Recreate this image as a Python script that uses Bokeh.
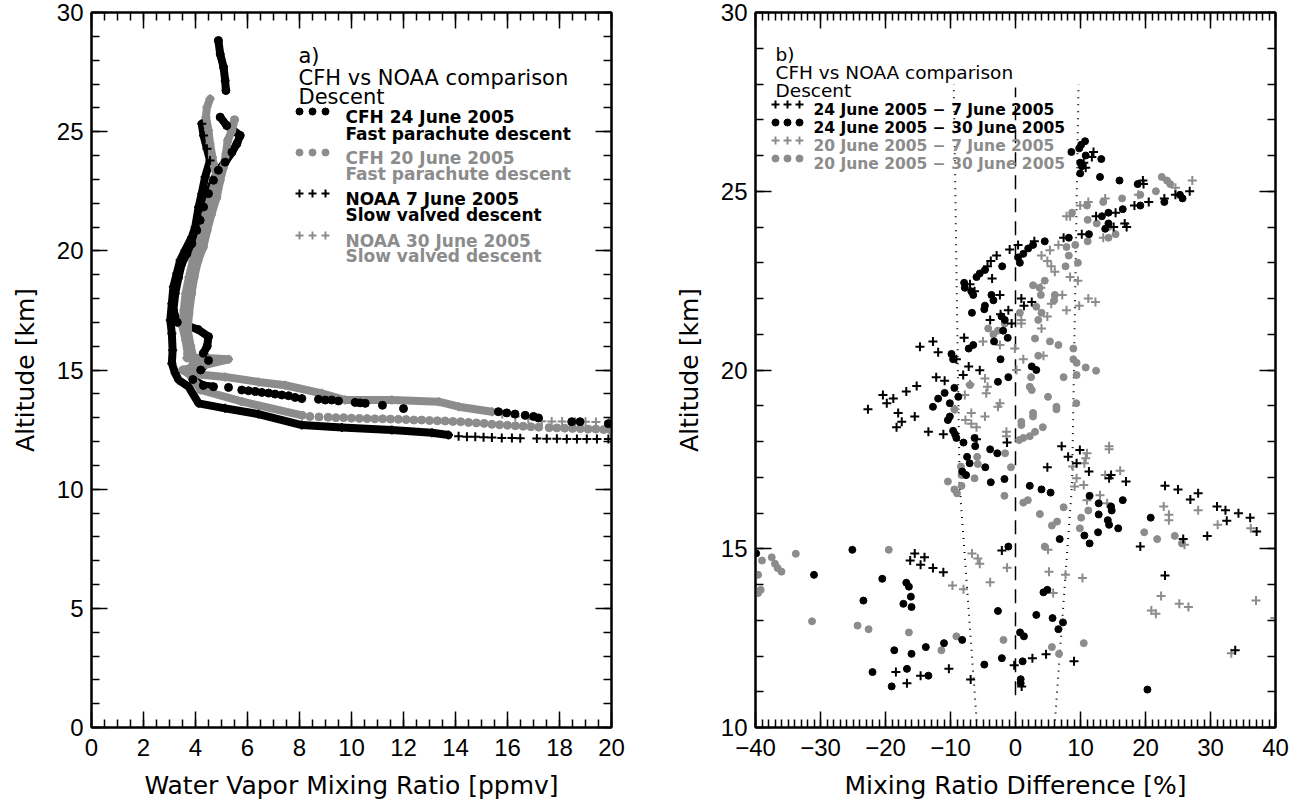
from bokeh.plotting import figure
from bokeh.layouts import row
from bokeh.models import Range1d, LinearAxis, FixedTicker, Label, CustomJSTickFormatter
from bokeh.embed import file_html
from bokeh.resources import INLINE

BLACK = "#000000"
GRAY = "#8c8c8c"
FONT = "DejaVu Sans"
TICK_FONT = "Liberation Sans"

# ------------------------------------------------------------------ panel a
A_XRANGE = (0, 20)
A_YRANGE = (0, 30)
A_X_TICKS = [0, 2, 4, 6, 8, 10, 12, 14, 16, 18, 20]
A_Y_TICKS = [0, 5, 10, 15, 20, 25, 30]

# CFH 24 June 2005 (black dots) - dense profile (nan = gap)
CFH24_V = [4.88, 4.95, 5.08, 5.14, 5.17, float("nan"),
           4.95, 5.2, 5.72, 5.59, 5.4, 5.14, 4.88, 4.69, 4.5, 4.31, 4.18, 4.05, 3.86, 3.67,
           3.47, 3.35, 3.22, 3.15, 3.3, 4.1, 4.5, 4.45, 4.3, 4.5, 4.2, 3.9, 4.3, 4.69]
CFH24_ALT = [28.82, 28.26, 27.7, 27.15, 26.73, float("nan"),
             25.61, 25.26, 24.84, 24.49, 24.14, 23.72, 23.38, 22.96, 22.4, 21.84, 21.28, 20.86, 20.3, 19.88,
             19.46, 18.9, 18.21, 17.51, 17.0, 16.7, 16.4, 16.0, 15.7, 15.4, 15.0, 14.6, 14.35, 14.3]
CFH24_TAIL_V = [5.27, 5.78, 6.04, 6.3, 6.55, 6.81, 7.06, 7.32, 7.58, 7.83, 8.09, 8.73, 8.99, 9.24, 9.5,
                10.14, 10.33, 10.53, 11.19, 12.0, 15.65, 15.97, 16.29, 16.68, 17.0, 17.19, 18.47, 18.79, 19.88]
CFH24_TAIL_ALT = [14.27, 14.16, 14.13, 14.1, 14.06, 14.03, 13.99, 13.95, 13.92, 13.85, 13.8, 13.77, 13.74, 13.74, 13.7,
                  13.64, 13.62, 13.6, 13.52, 13.38, 13.25, 13.2, 13.15, 13.1, 13.05, 12.99, 12.83, 12.83, 12.75]

# CFH 20 June 2005 (gray dots)
CFH20_V = [5.5, 5.4, 5.24, 5.17, 5.08, 4.95, 4.82, 4.62, 4.45, 4.3, 4.1, 3.95, 3.85, 3.75, 3.7, 3.82,
           3.95, 3.73, 3.85, 4.2, 5.8, 8.1]
CFH20_ALT = [25.5, 25.05, 24.63, 24.07, 23.52, 22.96, 22.26, 21.56, 20.86, 20.16, 19.6, 18.9, 18.21, 17.37, 16.67, 15.97,
             15.41, 14.86, 14.7, 14.16, 13.67, 13.1]
CFH20_TAIL_V = [8.4, 8.75, 9.1, 9.4, 9.7, 10.0, 10.3, 10.6, 10.9, 11.2, 11.5, 11.8, 12.1, 12.4, 12.7, 13.0, 13.3,
                13.6, 13.9, 14.2, 14.5, 14.8, 15.1, 15.4, 15.7, 16.0, 16.3, 16.6, 16.9, 17.2, 17.6, 17.9, 18.2,
                18.5, 18.8, 19.1, 19.4, 19.7, 19.95]
CFH20_TAIL_ALT = [13.05, 13.03, 13.02, 13.0, 13.0, 12.98, 12.97, 12.96, 12.95, 12.95, 12.94, 12.93, 12.92, 12.9, 12.9,
                  12.88, 12.87, 12.86, 12.84, 12.83, 12.8, 12.78, 12.76, 12.72, 12.7, 12.68, 12.66, 12.64, 12.62,
                  12.6, 12.58, 12.57, 12.56, 12.55, 12.54, 12.52, 12.52, 12.5, 12.5]

# NOAA 7 June 2005 (black crosses)
NOAA07_V = [4.24, 4.31, 4.44, 4.56, 4.37, 4.24, 4.12, 3.99, 3.86, 3.6, 3.41, 3.28, 3.15, 3.09, 3.03, 3.09, 3.12,
            3.09, 3.22, 3.35, 3.73, 4.12, 5.14, 6.42, 8.09, 9.63, 11.55, 13.09, 13.73]
NOAA07_ALT = [25.33, 24.84, 24.28, 23.79, 23.1, 22.4, 21.84, 21.0, 20.58, 20.02, 19.6, 19.05, 18.49, 17.79, 17.09,
              16.53, 15.83, 15.27, 14.86, 14.58, 14.3, 13.6, 13.39, 13.15, 12.69, 12.59, 12.48, 12.37, 12.27]
NOAA07_TAIL_V = [14.12, 14.44, 14.76, 15.08, 15.4, 15.78, 16.17, 16.49, 17.13, 17.51, 17.9, 18.28, 18.67, 19.05,
                 19.44, 19.88]
NOAA07_TAIL_ALT = [12.22, 12.2, 12.2, 12.18, 12.17, 12.15, 12.15, 12.14, 12.13, 12.12, 12.12, 12.11, 12.11, 12.1,
                   12.1, 12.1]

# NOAA 30 June 2005 (gray crosses)
NOAA30_V = [4.56, 4.44, 4.4, 4.5, 4.56, 4.65, 4.69, 4.82, 4.62, 4.4, 4.25, 4.1, 3.9, 3.75, 3.62, 3.55, 3.5, 3.62,
            3.7, 3.67, 4.4, 5.27, 4.3, 3.5, 3.73, 5.14, 6.42, 7.45, 8.86, 9.76, 11.55, 13.35, 14.12, 15.4]
NOAA30_ALT = [26.38, 26.03, 25.61, 25.05, 24.49, 23.93, 23.65, 23.1, 22.4, 21.56, 20.72, 20.16, 19.6, 18.9, 18.21,
              17.51, 16.81, 16.25, 15.69, 15.5, 15.5, 15.45, 15.2, 15.0, 14.85, 14.71, 14.5, 14.36, 14.02, 13.74,
              13.74, 13.67, 13.46, 13.25]
NOAA30_TAIL_V = [15.8, 16.3, 16.8, 17.32, 17.7, 18.1, 18.6, 19.0, 19.4, 19.9]
NOAA30_TAIL_ALT = [13.15, 13.05, 12.95, 12.85, 12.84, 12.84, 12.83, 12.83, 12.82, 12.82]

# ------------------------------------------------------------------ panel b
B_XRANGE = (-40, 40)
B_YRANGE = (10, 30)
B_X_TICKS = [-40, -30, -20, -10, 0, 10, 20, 30, 40]
B_X_LABELS = ["\u221240", "\u221230", "\u221220", "\u221210", "0", "10", "20", "30", "40"]
B_Y_TICKS = [10, 15, 20, 25, 30]

# 24 June 2005 - 7 June 2005 (black crosses)
S1 = [(12.0, 26.1), (11.75, 25.96), (10.5, 25.8), (10.8, 25.66), (19.6, 25.3), (19.7, 25.2), (26.8, 25.0),
      (24.6, 24.9), (22.9, 24.8), (20.5, 24.7), (18.3, 24.6), (15.4, 24.4), (12.4, 24.3), (15.1, 24.0),
      (17.1, 24.0), (16.8, 24.1), (10.2, 23.8), (7.4, 23.7), (2.9, 23.6),
      (0.4, 23.5), (-0.9, 23.37), (-2.9, 23.2), (-3.8, 23.05), (-4.3, 22.9), (-3.6, 22.56), (-7.0, 22.4),
      (-6.3, 22.2), (-2.4, 22.1), (0.9, 22.0), (1.3, 21.8), (2.5, 21.9), (-1.1, 21.67), (-2.3, 21.56),
      (-3.9, 21.4), (-0.6, 21.3), (-7.9, 20.9), (-12.7, 20.8), (-14.7, 20.65), (-11.9, 20.5), (-9.1, 20.3),
      (-7.2, 20.1), (-5.5, 19.99), (-8.05, 19.86), (-12.2, 19.8), (-10.9, 19.7), (-15.2, 19.55), (-16.8, 19.4),
      (-20.4, 19.3), (-18.8, 19.2), (-19.8, 19.07), (-22.7, 18.9), (-18.05, 18.8), (-15.5, 18.7),
      (-17.5, 18.55), (-18.3, 18.4), (-13.4, 18.27), (-11.1, 18.2), (-6.0, 18.06),
      (-1.3, 17.97), (7.1, 17.87), (8.1, 17.57), (9.4, 17.39), (9.9, 17.76), (11.3, 17.16), (4.9, 17.28),
      (14.7, 17.06), (14.4, 16.97), (17.0, 16.88), (23.0, 16.76), (25.0, 16.66), (26.9, 16.38), (28.1, 16.55),
      (31.0, 16.18), (32.3, 16.08), (34.3, 15.99), (36.1, 15.87), (37.1, 15.48), (32.5, 15.78), (29.5, 15.36),
      (25.8, 15.27), (19.2, 15.06), (-2.1, 14.95), (-16.2, 14.67), (-15.5, 14.87), (-14.0, 14.76),
      (-14.6, 14.55), (-12.7, 14.46), (-11.1, 14.34), (23.0, 14.25), (33.8, 12.16), (2.6, 11.94), (4.7, 12.05),
      (9.0, 11.85), (-0.2, 11.74), (-10.25, 11.64), (-6.9, 11.34), (-18.4, 11.55), (-16.7, 11.24),
      (-14.6, 11.45), (0.95, 11.15)]

# 24 June 2005 - 30 June 2005 (black dots)
S2 = [(10.7, 26.4), (10.1, 26.3), (9.8, 26.2), (8.6, 26.1), (10.8, 26.0), (13.2, 25.9), (9.95, 25.8),
      (10.2, 25.7), (9.95, 25.5), (13.0, 25.4), (16.0, 25.3), (18.8, 25.2), (22.9, 24.7), (19.2, 24.6),
      (16.5, 24.5), (14.3, 24.4), (13.3, 24.3), (14.3, 24.1), (13.8, 23.95), (11.3, 23.8), (8.2, 23.7),
      (25.7, 24.8), (25.3, 24.9),
      (4.5, 23.6), (2.7, 23.5), (1.95, 23.4), (1.2, 23.25), (0.4, 23.15), (0.67, 23.0), (-2.05, 22.9),
      (-4.7, 22.8), (-5.5, 22.7), (-6.0, 22.6), (-7.9, 22.44), (-7.8, 22.3), (-6.8, 22.2), (-6.5, 22.1),
      (-3.7, 22.1), (-3.4, 21.95), (-4.7, 21.8), (-4.8, 21.7), (-6.7, 21.6), (-2.15, 21.5), (-1.65, 21.4),
      (-1.9, 21.1), (-1.2, 20.9), (-3.3, 20.8), (-6.5, 20.7), (-7.2, 20.6), (-9.85, 20.45), (-9.6, 20.3),
      (-2.3, 20.3), (2.5, 20.1), (3.2, 20.0), (-1.1, 19.8), (-2.7, 19.67), (-9.4, 19.5), (-10.9, 19.36),
      (-8.8, 19.25), (-11.9, 19.2), (-10.1, 19.07), (-12.7, 18.97), (-10.1, 18.7), (-10.4, 18.6),
      (-9.6, 18.3), (-9.3, 18.2), (-9.1, 18.1), (-6.3, 18.1),
      (-8.0, 17.97), (-6.2, 17.87), (-3.9, 17.78), (-2.8, 17.67), (-7.45, 17.57), (-7.06, 17.39),
      (-8.2, 17.16), (-7.6, 17.06), (-4.65, 17.28), (-3.8, 16.86), (-1.7, 16.95), (2.2, 16.76), (4.0, 16.66),
      (5.4, 16.57), (11.4, 16.48), (12.8, 16.27), (12.8, 15.96), (14.7, 16.18), (14.8, 16.07), (16.5, 16.36),
      (14.2, 15.8), (14.4, 15.67), (15.8, 15.57), (12.7, 15.46), (10.6, 15.37), (11.4, 15.15), (6.8, 15.27),
      (20.8, 15.87), (-1.1, 15.06), (-39.9, 14.87), (-25.1, 14.97), (-31.0, 14.27), (-20.5, 14.16),
      (-23.4, 13.55), (-16.8, 14.05), (-16.4, 13.94), (-16.1, 13.66), (-17.25, 13.46), (-16.0, 13.37),
      (-2.7, 13.26), (3.2, 13.15), (5.7, 13.06), (7.3, 12.94), (6.6, 12.75), (4.3, 13.78), (4.9, 13.85),
      (0.7, 12.66), (1.3, 12.55), (-8.2, 12.45), (-11.0, 12.36), (-13.8, 12.25), (-18.65, 12.16),
      (-16.0, 12.06), (-2.1, 11.94), (1.1, 11.85), (-4.8, 11.76), (-16.7, 11.64), (-13.4, 11.45),
      (-22.0, 11.55), (-19.05, 11.15), (0.8, 11.35), (0.8, 11.24), (20.3, 11.06)]

# 20 June 2005 - 7 June 2005 (gray crosses)
S3 = [(27.2, 25.3), (24.6, 25.1), (18.9, 24.9), (13.8, 24.8), (11.2, 24.7), (9.95, 24.6), (8.4, 24.3),
      (13.5, 23.7), (8.4, 22.6), (9.6, 22.5), (11.2, 22.0), (12.3, 21.9), (9.8, 21.8),
      (7.85, 24.3), (6.6, 23.5), (5.3, 23.35), (4.0, 23.2), (4.9, 23.05), (5.5, 22.9), (6.05, 22.75),
      (3.9, 22.3), (5.5, 21.85), (7.85, 21.67), (4.9, 21.5), (4.0, 21.16), (0.9, 21.4), (0.9, 21.3),
      (-0.1, 20.6), (-2.4, 20.7), (-5.0, 20.8), (1.2, 20.3), (0.15, 20.0), (-4.7, 19.76), (-4.3, 19.53),
      (-4.5, 19.35), (-2.4, 19.07), (-2.7, 18.97), (-7.8, 19.3), (-4.7, 18.7), (-6.8, 18.8), (-7.7, 18.6),
      (-6.8, 18.5), (-6.0, 18.4), (-1.4, 18.27), (-1.4, 18.15), (-9.3, 18.9), (-7.0, 19.6), (7.2, 22.1),
      (4.3, 20.4),
      (11.0, 17.67), (10.8, 17.53), (10.6, 17.39), (14.4, 17.87), (14.4, 17.78), (8.8, 17.3), (9.4, 16.97),
      (9.1, 16.74), (10.5, 16.78), (11.0, 16.36), (13.0, 16.5), (14.1, 16.27), (13.8, 17.06), (16.1, 17.18),
      (22.8, 16.18), (23.6, 15.95), (23.6, 15.8), (28.1, 16.08), (31.1, 15.67), (26.0, 15.11), (36.2, 15.57),
      (5.0, 14.97), (-6.7, 14.87), (-5.8, 14.73), (-5.5, 14.58), (-9.7, 13.97), (-8.0, 13.87), (-3.9, 14.06),
      (-1.3, 14.47), (5.15, 14.36), (7.7, 14.27), (10.3, 14.18), (5.8, 13.76), (22.4, 13.68), (25.2, 13.46),
      (26.6, 13.37), (20.9, 13.27), (21.6, 13.18), (37.0, 13.55), (33.2, 12.08), (39.9, 13.06)]

# 20 June 2005 - 30 June 2005 (gray dots)
S4 = [(22.5, 25.4), (23.3, 25.3), (23.8, 25.2), (21.6, 25.0), (19.2, 24.9), (16.4, 24.8), (13.5, 24.7),
      (11.0, 24.6), (8.7, 24.4), (11.1, 24.2), (14.3, 24.0), (12.5, 24.1), (15.4, 23.8), (14.3, 23.7),
      (11.1, 23.6), (9.2, 23.5), (8.2, 23.2), (9.6, 23.0), (7.7, 22.9), (8.9, 20.6), (8.9, 20.3), (9.4, 20.2),
      (10.8, 20.07), (12.4, 19.98), (9.4, 19.86), (7.4, 19.8), (9.35, 19.07),
      (7.85, 23.44), (2.7, 22.37), (3.7, 22.3), (4.5, 22.5), (3.9, 22.1), (6.05, 22.1), (5.95, 21.95),
      (3.2, 21.77), (4.0, 21.6), (3.5, 21.4), (0.67, 21.6), (3.0, 20.88), (5.3, 20.8), (6.6, 20.7), (3.5, 20.4),
      (-1.65, 21.3), (-4.2, 21.16), (-3.4, 21.0), (-2.7, 21.1), (2.4, 19.8), (2.2, 19.53), (2.5, 19.44),
      (5.0, 19.25), (6.3, 18.97), (6.3, 18.9), (2.7, 18.8), (2.7, 18.7), (0.9, 18.55), (0.9, 18.46),
      (4.2, 18.4), (3.0, 18.27), (2.2, 18.15), (1.2, 18.1), (-7.0, 19.58), (-9.4, 18.9),
      (0.56, 18.04), (-1.6, 17.67), (-5.9, 17.57), (-5.8, 17.37), (-6.3, 16.97), (-8.3, 17.06), (-8.4, 17.3),
      (-10.4, 16.88), (-9.4, 16.66), (-9.0, 16.55), (-8.3, 16.76), (-0.7, 17.28), (-1.7, 16.48), (1.2, 16.29),
      (1.9, 16.36), (3.75, 15.97), (5.6, 15.65), (6.4, 15.76), (7.4, 16.16), (9.9, 15.57), (10.1, 15.87),
      (11.2, 16.07), (19.8, 15.46), (21.8, 15.27), (24.5, 15.36), (25.6, 15.15), (4.5, 15.06), (-19.5, 14.97),
      (-33.8, 14.86), (-37.5, 14.76), (-39.0, 14.67), (-37.0, 14.58), (-36.6, 14.46), (-36.0, 14.36),
      (-39.6, 14.27), (-39.2, 13.85), (-39.6, 13.76), (-31.3, 12.97), (-24.3, 12.85), (-22.6, 12.75),
      (-16.4, 12.66), (-9.1, 12.55), (-11.4, 12.16), (-1.85, 12.45), (5.6, 12.25), (6.7, 12.06), (10.5, 12.36)]

# reference lines in panel b
ZERO_X = [0, 0]
ZERO_ALT = [10.9, 27.9]
DOT_ALT = [10.0, 16.8, 28.0]
DOT_LEFT = [-5.9, -8.6, -9.5]
DOT_RIGHT = [6.0, 8.7, 9.7]

# ------------------------------------------------------------------ layout (page pixels)
FRAME_W, FRAME_H = 520, 715
BORDER_TOP = 12
FRAME_TOP = 13
A_LEFT, B_LEFT = 93, 757


def to_data(px, py, left, xr, yr):
    x = xr[0] + (px - left) * (xr[1] - xr[0]) / FRAME_W
    y = yr[1] - (py - FRAME_TOP) * (yr[1] - yr[0]) / FRAME_H
    return x, y


def style_axis(ax, labels=True):
    ax.axis_line_width = 2
    ax.axis_line_color = BLACK
    ax.major_tick_in = 16
    ax.major_tick_out = 0
    ax.minor_tick_in = 8
    ax.minor_tick_out = 0
    ax.major_tick_line_width = 1.5
    ax.minor_tick_line_width = 1.5
    ax.major_tick_line_color = BLACK
    ax.minor_tick_line_color = BLACK
    ax.major_label_text_font = TICK_FONT
    ax.major_label_text_font_size = "24px"
    ax.major_label_text_color = BLACK
    ax.axis_label_text_font = FONT
    ax.axis_label_text_font_size = "25px"
    ax.axis_label_text_font_style = "normal"
    ax.axis_label_text_color = BLACK
    if not labels:
        ax.formatter = CustomJSTickFormatter(code="return ''")
        ax.major_label_standoff = 0
        ax.major_label_text_font_size = "0px"


def make_fig(xr, yr, xt, xminor, yt, yminor, xlabel, ylabel, bl, br):
    p = figure(x_range=Range1d(*xr), y_range=Range1d(*yr), frame_width=FRAME_W, frame_height=FRAME_H,
               output_backend="svg", toolbar_location=None, min_border_left=bl, min_border_right=br,
               min_border_top=BORDER_TOP, min_border_bottom=80, x_axis_location=None, y_axis_location=None)
    p.grid.visible = False
    p.outline_line_color = BLACK
    p.outline_line_width = 2
    p.background_fill_color = "white"
    p.border_fill_color = "white"
    bottom = LinearAxis(ticker=FixedTicker(ticks=xt, minor_ticks=xminor), axis_label=xlabel)
    left = LinearAxis(ticker=FixedTicker(ticks=yt, minor_ticks=yminor), axis_label=ylabel)
    top = LinearAxis(ticker=FixedTicker(ticks=xt, minor_ticks=xminor))
    right = LinearAxis(ticker=FixedTicker(ticks=yt, minor_ticks=yminor))
    for ax in (bottom, left):
        style_axis(ax)
    style_axis(top, labels=False)
    style_axis(right, labels=False)
    bottom.major_label_standoff = 11
    bottom.axis_label_standoff = 12
    left.major_label_standoff = 8
    left.axis_label_standoff = 14
    p.add_layout(bottom, "below")
    p.add_layout(left, "left")
    p.add_layout(top, "above")
    p.add_layout(right, "right")
    return p, bottom


def frange(a, b, step):
    out, v = [], a
    while v <= b + 1e-9:
        out.append(round(v, 6))
        v += step
    return out


# ---------------- panel a
p1, _ = make_fig(A_XRANGE, A_YRANGE, A_X_TICKS, frange(0, 20, 0.5), A_Y_TICKS, frange(0, 30, 1),
                 "Water Vapor Mixing Ratio [ppmv]", "Altitude [km]", 91, 35)

for v, a, col in [(NOAA07_V, NOAA07_ALT, BLACK), (CFH24_V, CFH24_ALT, BLACK),
                  (NOAA30_V, NOAA30_ALT, GRAY), (CFH20_V, CFH20_ALT, GRAY)]:
    p1.line(v, a, line_width=8, line_color=col, line_join="round", line_cap="round")

p1.scatter(NOAA30_V, NOAA30_ALT, marker="cross", size=9, line_width=2, line_color=GRAY)
p1.scatter(NOAA30_TAIL_V, NOAA30_TAIL_ALT, marker="cross", size=9, line_width=2, line_color=GRAY)
p1.scatter(CFH20_V, CFH20_ALT, marker="circle", size=8, color=GRAY)
p1.scatter(CFH20_TAIL_V, CFH20_TAIL_ALT, marker="circle", size=8, color=GRAY)
p1.scatter(NOAA07_V, NOAA07_ALT, marker="cross", size=9, line_width=2, line_color=BLACK)
p1.scatter(NOAA07_TAIL_V, NOAA07_TAIL_ALT, marker="cross", size=9, line_width=2, line_color=BLACK)
p1.scatter(CFH24_V, CFH24_ALT, marker="circle", size=8, color=BLACK)
p1.scatter(CFH24_TAIL_V, CFH24_TAIL_ALT, marker="circle", size=8, color=BLACK)


def add_text(p, left, xr, yr, px, py, text, size, color=BLACK, bold=False):
    x, y = to_data(px, py, left, xr, yr)
    p.add_layout(Label(x=x, y=y, text=text, text_font=FONT, text_font_size=size, text_color=color,
                       text_font_style="bold" if bold else "normal", text_baseline="alphabetic",
                       text_align="left"))


def add_sample(p, left, xr, yr, pxs, py, marker, color):
    pts = [to_data(px, py, left, xr, yr) for px in pxs]
    xs = [q[0] for q in pts]
    ys = [q[1] for q in pts]
    if marker == "circle":
        p.scatter(xs, ys, marker="circle", size=7, color=color)
    else:
        p.scatter(xs, ys, marker="cross", size=8, line_width=2, line_color=color)


A_HEAD = [("a)", 56), ("CFH vs NOAA comparison", 78), ("Descent", 97)]
for t, py in A_HEAD:
    add_text(p1, A_LEFT, A_XRANGE, A_YRANGE, 300, py, t, "21px")

A_ENTRIES = [("CFH 24 June 2005", "Fast parachute descent", BLACK, "circle", 117, 134),
             ("CFH 20 June 2005", "Fast parachute descent", GRAY, "circle", 158, 174),
             ("NOAA 7 June 2005", "Slow valved descent", BLACK, "cross", 199, 215),
             ("NOAA 30 June 2005", "Slow valved descent", GRAY, "cross", 241, 256)]
for t1, t2, col, mk, py1, py2 in A_ENTRIES:
    add_text(p1, A_LEFT, A_XRANGE, A_YRANGE, 347, py1, t1, "17px", col, True)
    add_text(p1, A_LEFT, A_XRANGE, A_YRANGE, 347, py2, t2, "17px", col, True)
    add_sample(p1, A_LEFT, A_XRANGE, A_YRANGE, [301, 314, 327], py1 - 5, mk, col)

# ---------------- panel b
p2, p2_bottom = make_fig(B_XRANGE, B_YRANGE, B_X_TICKS, frange(-40, 40, 1), B_Y_TICKS, frange(10, 30, 1),
                         "Mixing Ratio Difference [%]", "Altitude [km]", 109, 15)
p2_bottom.major_label_overrides = {t: lab for t, lab in zip(B_X_TICKS, B_X_LABELS)}

p2.line(ZERO_X, ZERO_ALT, line_color=BLACK, line_width=1.5, line_dash="14 9")
p2.line(DOT_LEFT, DOT_ALT, line_color=BLACK, line_width=2, line_dash="1 6")
p2.line(DOT_RIGHT, DOT_ALT, line_color=BLACK, line_width=2, line_dash="1 6")

p2.scatter([q[0] for q in S4], [q[1] for q in S4], marker="circle", size=7, color=GRAY)
p2.scatter([q[0] for q in S3], [q[1] for q in S3], marker="cross", size=9, line_width=2, line_color=GRAY)
p2.scatter([q[0] for q in S2], [q[1] for q in S2], marker="circle", size=7, color=BLACK)
p2.scatter([q[0] for q in S1], [q[1] for q in S1], marker="cross", size=9, line_width=2, line_color=BLACK)

B_HEAD = [("b)", 55), ("CFH vs NOAA comparison", 73), ("Descent", 91)]
for t, py in B_HEAD:
    add_text(p2, B_LEFT, B_XRANGE, B_YRANGE, 777, py, t, "18.5px")

B_ENTRIES = [("24 June 2005 \u2212 7 June 2005", BLACK, "cross", 110),
             ("24 June 2005 \u2212 30 June 2005", BLACK, "circle", 128),
             ("20 June 2005 \u2212 7 June 2005", GRAY, "cross", 146),
             ("20 June 2005 \u2212 30 June 2005", GRAY, "circle", 164)]
for t, col, mk, py in B_ENTRIES:
    add_text(p2, B_LEFT, B_XRANGE, B_YRANGE, 815, py, t, "15.5px", col, True)
    add_sample(p2, B_LEFT, B_XRANGE, B_YRANGE, [777, 789, 801], py - 5, mk, col)

layout = row(p1, p2)
open("out.html", "w").write(file_html(layout, INLINE))
